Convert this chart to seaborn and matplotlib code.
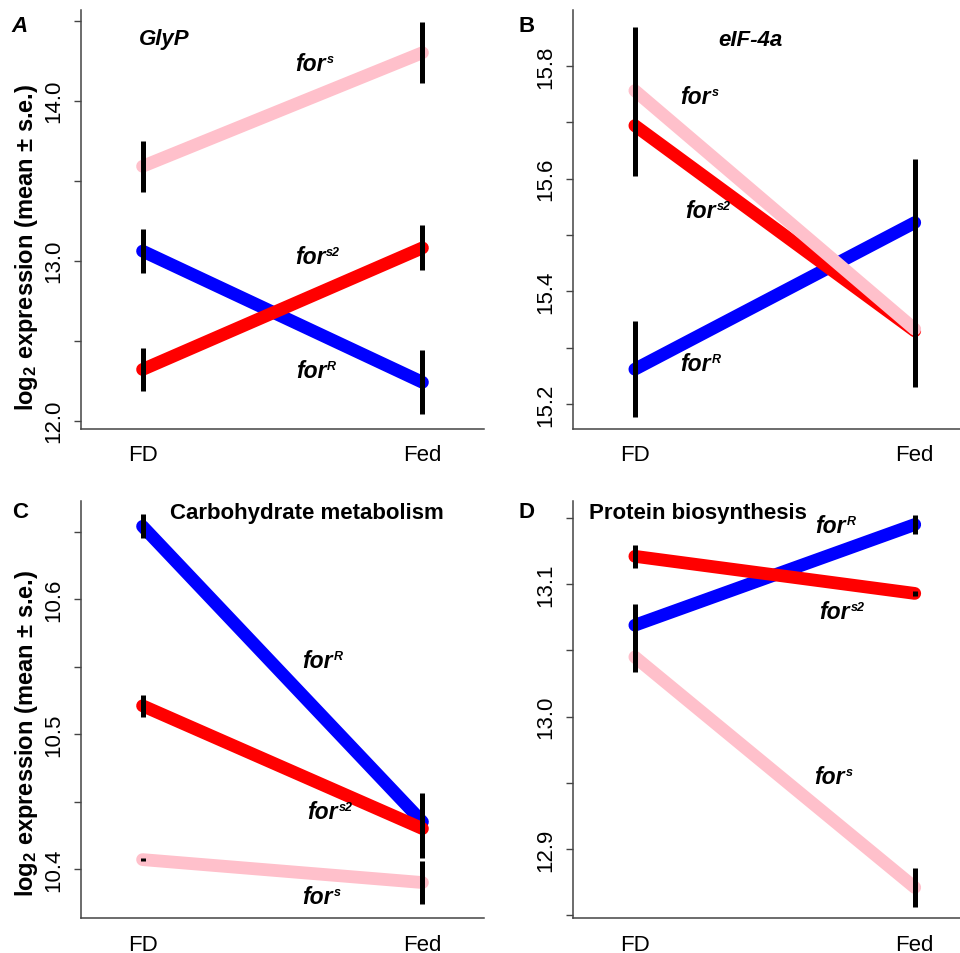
import numpy as np
import pandas as pd
import matplotlib
matplotlib.use("Agg")
import matplotlib.pyplot as plt
import matplotlib.transforms as mtransforms
import seaborn as sns

# data (rows follow genotypes order, columns follow conditions)
conditions = ["FD", "Fed"]
genotypes = ["forR", "fors2", "fors"]
palette = {"forR": "blue", "fors2": "red", "fors": "pink"}
superscripts = {"forR": "R", "fors2": "s2", "fors": "s"}

glyp_mean = [[13.06, 12.24], [12.32, 13.08], [13.59, 14.30]]
glyp_se = [[0.14, 0.20], [0.135, 0.14], [0.16, 0.19]]
eif_mean = [[15.262, 15.522], [15.694, 15.330], [15.756, 15.333]]
eif_se = [[0.085, 0.113], [0.09, 0.08], [0.112, 0.103]]
carb_mean = [[10.654, 10.435], [10.521, 10.430], [10.407, 10.390]]
carb_se = [[0.009, 0.021], [0.008, 0.022], [0.001, 0.016]]
prot_mean = [[13.069, 13.145], [13.121, 13.093], [13.045, 12.871]]
prot_se = [[0.016, 0.0075], [0.0085, 0.002], [0.011, 0.0145]]

sns.set_style("white")
plt.rcParams["font.family"] = ["Liberation Sans", "DejaVu Sans"]
plt.rcParams.update({"text.color": "black", "axes.labelcolor": "black",
                     "xtick.color": "black", "ytick.color": "black"})
plt.rcParams["mathtext.fontset"] = "custom"
plt.rcParams["mathtext.it"] = "Liberation Sans:italic:bold"
plt.rcParams["mathtext.rm"] = "Liberation Sans:bold"
plt.rcParams["mathtext.bf"] = "Liberation Sans:bold"


def make_df(means, ses):
    rows = []
    for g, m, s in zip(genotypes, means, ses):
        for i, c in enumerate(conditions):
            rows.append({"genotype": g, "x": i + 1, "mean": m[i], "se": s[i]})
    return pd.DataFrame(rows)


# layout positions are in figure pixels (from top-left)
panels = [
    dict(letter="A", letter_style="italic", letter_pos=(20, 27),
         title="GlyP", title_style="italic", title_pos=(164, 40),
         mean=glyp_mean, se=glyp_se, ylim=(11.948, 14.567),
         ticks=np.arange(12.0, 14.51, 0.5), labeled=[12.0, 13.0, 14.0],
         rect=[81, 11, 403, 419],
         lab_pos={"fors": (326, 71), "fors2": (325.5, 264), "forR": (326.5, 378)}),
    dict(letter="B", letter_style="normal", letter_pos=(527, 26),
         title="eIF-4a", title_style="italic", title_pos=(750, 40),
         mean=eif_mean, se=eif_se, ylim=(15.156, 15.899),
         ticks=np.arange(15.2, 15.81, 0.1), labeled=[15.2, 15.4, 15.6, 15.8],
         rect=[573.3, 11, 403, 419],
         lab_pos={"fors": (711, 104), "fors2": (716, 218), "forR": (711, 371)}),
    dict(letter="C", letter_style="normal", letter_pos=(20, 513),
         title="Carbohydrate metabolism", title_style="normal", title_pos=(307, 513),
         mean=carb_mean, se=carb_se, ylim=(10.3635, 10.673),
         ticks=np.arange(10.40, 10.651, 0.05), labeled=[10.4, 10.5, 10.6],
         rect=[81, 501.7, 403, 417.6],
         lab_pos={"forR": (333, 668), "fors2": (338, 819), "fors": (333, 904)}),
    dict(letter="D", letter_style="normal", letter_pos=(527, 512),
         title="Protein biosynthesis", title_style="normal", title_pos=(698, 513),
         mean=prot_mean, se=prot_se, ylim=(12.8477, 13.163),
         ticks=np.arange(12.85, 13.151, 0.05), labeled=[12.9, 13.0, 13.1],
         rect=[573.3, 501.7, 403, 417.6],
         lab_pos={"forR": (846, 533), "fors2": (850, 619), "fors": (845, 784)}),
]

W, H = 960, 954
fig = plt.figure(figsize=(W / 100, H / 100), dpi=100)
sup_trans = mtransforms.offset_copy(fig.transFigure, fig=fig, x=0.5, y=5.5, units="points")

for p in panels:
    l, t, w, h = p["rect"]
    ax = fig.add_axes([l / W, 1 - (t + h) / H, w / W, h / H])
    df = make_df(p["mean"], p["se"])
    sns.lineplot(data=df, x="x", y="mean", hue="genotype", hue_order=genotypes,
                 palette=palette, linewidth=9.2, solid_capstyle="round",
                 legend=False, errorbar=None, sort=False, ax=ax)
    ax.errorbar(df["x"], df["mean"], yerr=df["se"], fmt="none", ecolor="black",
                elinewidth=3.6, capsize=0, zorder=5)

    ax.set_xlim(0.78, 2.22)
    ax.set_ylim(*p["ylim"])
    ax.set_xticks([1, 2])
    ax.set_xticklabels(conditions)
    ax.set_yticks(p["ticks"])
    ax.set_yticklabels([f"{v:.1f}" if any(abs(v - q) < 1e-6 for q in p["labeled"]) else ""
                        for v in p["ticks"]])
    ax.set_xlabel("")
    ax.set_ylabel("")
    ax.tick_params(axis="x", length=0, pad=11, labelsize=16)
    ax.tick_params(axis="y", length=5, width=1, color="#444444", pad=7,
                   labelsize=16, labelrotation=90, left=True)
    for lab in ax.get_yticklabels():
        lab.set_va("center")
    for side in ["top", "right"]:
        ax.spines[side].set_visible(False)
    for side in ["left", "bottom"]:
        ax.spines[side].set_color("#444444")
        ax.spines[side].set_linewidth(1.1)

    tx, ty = p["title_pos"]
    fig.text(tx / W, 1 - ty / H, p["title"], ha="center", va="center",
             fontsize=16, fontweight="bold", style=p["title_style"])
    lx, ly = p["letter_pos"]
    fig.text(lx / W, 1 - ly / H, p["letter"], ha="center", va="center",
             fontsize=16, fontweight="bold", style=p["letter_style"])
    for g in genotypes:
        x, y = p["lab_pos"][g]
        fig.text(x / W, 1 - y / H, "for", ha="right", va="baseline",
                 fontsize=16.5, fontweight="bold", style="italic")
        fig.text(x / W, 1 - y / H, superscripts[g], ha="left", va="baseline",
                 fontsize=9, fontweight="bold", style="italic", transform=sup_trans)

ylab = r"$\mathrm{log}_{2}$ expression (mean $\mathrm{\pm}$ s.e.)"
fig.text(27 / W, 1 - 247 / H, ylab, rotation=90, ha="center", va="center",
         fontsize=17, fontweight="bold")
fig.text(27 / W, 1 - 733 / H, ylab, rotation=90, ha="center", va="center",
         fontsize=17, fontweight="bold")

fig.savefig("out.png", dpi=100)
